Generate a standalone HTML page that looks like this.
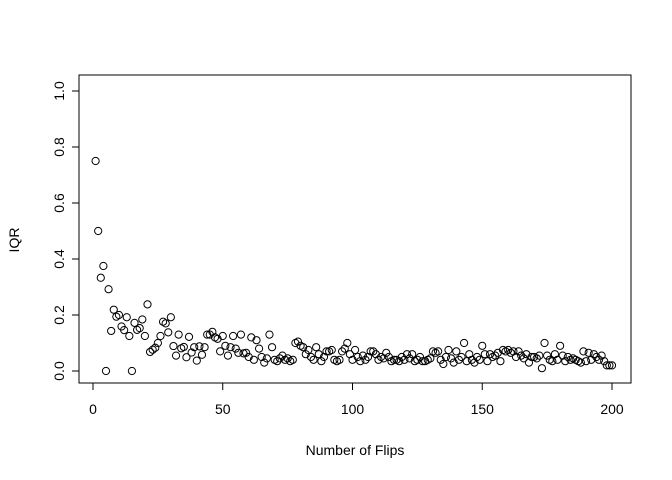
<!DOCTYPE html>
<html><head><meta charset="utf-8"><style>
body{margin:0;background:#fff}
svg{display:block;font-family:"Liberation Sans",Arial,sans-serif}
</style></head><body>
<svg id="chart" width="672" height="480">
<rect x="79" y="75" width="552" height="308" fill="none" stroke="#000"/>
<g id="xaxis"></g>
<g id="yaxis"></g>
<g id="points"></g>
<text x="355" y="455" font-size="14" text-anchor="middle">Number of Flips</text>
<text transform="translate(19,240) rotate(-90)" font-size="14" text-anchor="middle">IQR</text>
</svg>
<script>
const xTicks=[0,50,100,150,200];
const yTicks=[0.0,0.2,0.4,0.6,0.8,1.0];
const yTickLabels=["0.0","0.2","0.4","0.6","0.8","1.0"];
const iqrValues=[0.75,0.5,0.333,0.375,0.0,0.292,0.143,0.219,0.194,0.2,0.159,0.146,0.192,0.125,0.0,0.172,0.147,0.153,0.184,0.125,
0.238,0.068,0.076,0.083,0.1,0.125,0.176,0.17,0.138,0.192,0.089,0.055,0.13,0.081,0.086,0.049,0.122,0.066,0.085,0.037,
0.088,0.058,0.085,0.13,0.13,0.14,0.12,0.115,0.07,0.125,0.09,0.055,0.085,0.125,0.08,0.065,0.13,0.063,0.065,0.05,
0.12,0.04,0.11,0.08,0.05,0.03,0.045,0.13,0.085,0.04,0.035,0.045,0.055,0.04,0.045,0.035,0.04,0.1,0.105,0.09,
0.085,0.06,0.075,0.05,0.04,0.085,0.06,0.035,0.05,0.07,0.07,0.075,0.04,0.035,0.04,0.07,0.08,0.1,0.06,0.04,
0.075,0.05,0.035,0.055,0.04,0.05,0.07,0.07,0.06,0.04,0.05,0.045,0.065,0.05,0.035,0.04,0.04,0.035,0.05,0.04,
0.06,0.045,0.06,0.035,0.04,0.05,0.035,0.035,0.04,0.045,0.07,0.065,0.07,0.04,0.025,0.05,0.075,0.045,0.03,0.07,
0.04,0.05,0.1,0.035,0.06,0.04,0.03,0.05,0.04,0.09,0.06,0.035,0.06,0.05,0.055,0.065,0.035,0.075,0.07,0.075,
0.065,0.07,0.05,0.07,0.055,0.045,0.06,0.03,0.05,0.05,0.045,0.055,0.01,0.1,0.055,0.04,0.035,0.06,0.04,0.09,
0.055,0.035,0.05,0.04,0.045,0.04,0.035,0.03,0.07,0.035,0.065,0.04,0.06,0.05,0.04,0.055,0.035,0.02,0.02,0.02];
const NS="http://www.w3.org/2000/svg";
function sx(v){return 93+v*(612-93)/200;}
function sy(v){return 371-v*280;}
function mk(t,a,p){const e=document.createElementNS(NS,t);for(const k in a)e.setAttribute(k,a[k]);p.appendChild(e);return e;}
const xa=document.getElementById('xaxis'),ya=document.getElementById('yaxis'),pg=document.getElementById('points');
mk('line',{x1:sx(0),x2:sx(200),y1:383,y2:383,stroke:'#000'},xa);
xTicks.forEach(t=>{
  const l=mk('line',{x1:sx(t),x2:sx(t),y1:383,y2:390,stroke:'#000'},xa);
  
  
  const tx=mk('text',{x:sx(t),y:414,'font-size':14,'text-anchor':'middle'},xa);
  tx.textContent=t;
  
  
});
mk('line',{x1:79,x2:79,y1:sy(0),y2:sy(1),stroke:'#000'},ya);
yTicks.forEach((t,i)=>{
  const l=mk('line',{x1:72,x2:79,y1:sy(t),y2:sy(t),stroke:'#000'},ya);
  
  
  const tx=mk('text',{transform:`translate(64,${sy(t)}) rotate(-90)`,'font-size':14,'text-anchor':'middle'},ya);
  tx.textContent=yTickLabels[i];
  
  
});
iqrValues.forEach((v,i)=>{
  const c=mk('circle',{cx:sx(i+1),cy:sy(v),r:3.6,fill:'none',stroke:'#000','stroke-width':1},pg);
  
  
});
</script>
</body></html>
